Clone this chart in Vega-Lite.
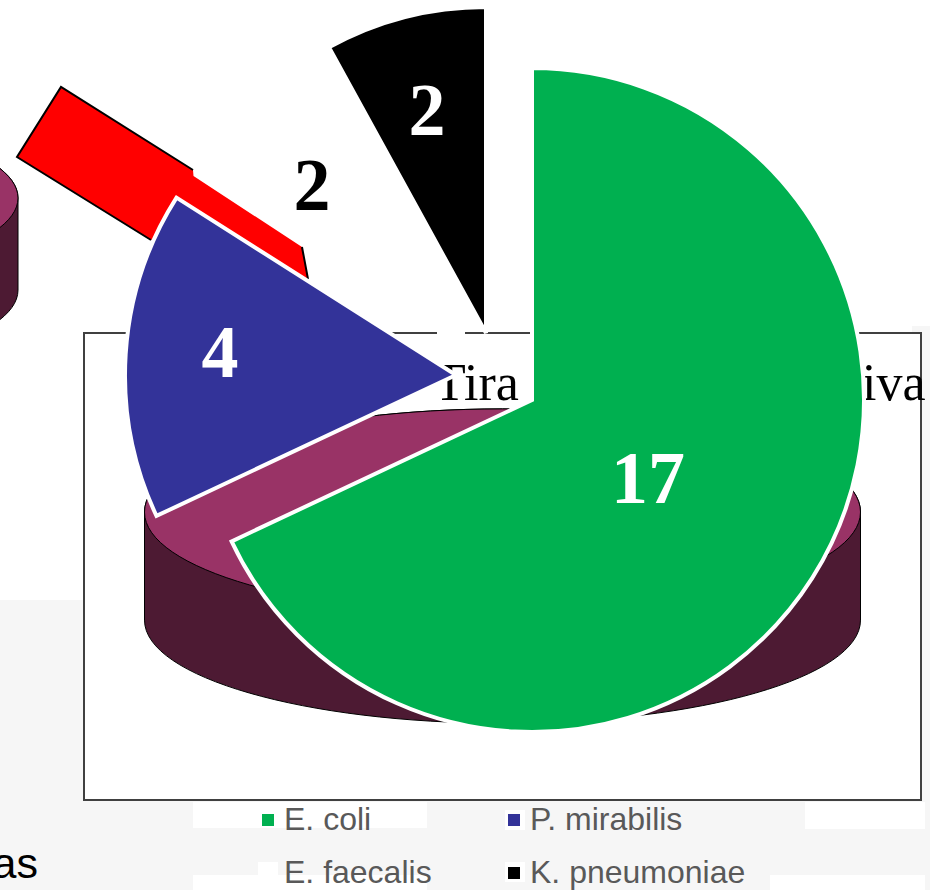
{"$schema":"https://vega.github.io/schema/vega-lite/v6.json","width":930,"height":890,"padding":0,"autosize":{"type":"none"},"background":"white","config":{"view":{"stroke":null}},
"datasets":{
"slices":[{"species":"E. coli","ord":1,"count":17,"cx":532,"cy":400,"lx":648,"ly":503,"lc":"white"},{"species":"P. mirabilis","ord":2,"count":4,"cx":456,"cy":375,"lx":220,"ly":377,"lc":"white"},{"species":"E. faecalis","ord":3,"count":2,"cx":330,"cy":300,"lx":312,"ly":210,"lc":"black"},{"species":"K. pneumoniae","ord":4,"count":2,"cx":486,"cy":333,"lx":427,"ly":135,"lc":"white"}],
"panels":[{"x":0,"x2":84,"y":600,"y2":890},{"x":84,"x2":930,"y":800,"y2":890},{"x":921,"x2":930,"y":326,"y2":800},{"x":912,"x2":921,"y":326,"y2":333}],
"patches":[{"x":193,"x2":427,"y":802,"y2":828},{"x":193,"x2":427,"y":875,"y2":890},{"x":258,"x2":278,"y":862,"y2":875},{"x":505,"x2":525,"y":810,"y2":830},{"x":505,"x2":525,"y":862,"y2":882},{"x":805,"x2":925,"y":802,"y2":829},{"x":770,"x2":925,"y":875,"y2":890}],
"frame":[{"x":84,"x2":921,"y":333,"y2":800}],
"gaps":[{"x":437,"x2":465,"y":330,"y2":336}],
"discLarge":[{"x":502.5,"y":512}],
"discSmall":[{"x":-287,"y":198}],
"redBand":[{"x":17,"top":157,"bottom":157},{"x":61,"top":87,"bottom":184},{"x":193,"top":170,"bottom":266},{"x":193.5,"top":176,"bottom":266},{"x":302,"top":247,"bottom":335},{"x":308,"top":279,"bottom":339}],
"redEdges":[{"e":"a","i":1,"x":151,"y":240},{"e":"a","i":2,"x":17,"y":157},{"e":"a","i":3,"x":61,"y":87},{"e":"a","i":4,"x":193,"y":170},{"e":"b","i":1,"x":302,"y":247},{"e":"b","i":2,"x":308,"y":279}],
"titleBits":[{"t":"Tira","x":434,"y":400},{"t":"iva","x":862,"y":400}],
"slideText":[{"t":"as","x":38,"y":878}]
},
"layer":[
{"data":{"name":"panels"},"mark":{"type":"rect","fill":"#f6f6f6"},"encoding":{"x":{"field":"x","type":"quantitative","scale":{"domain":[0,930],"nice":false,"zero":false},"axis":null},"x2":{"field":"x2"},"y":{"field":"y","type":"quantitative","scale":{"domain":[890,0],"nice":false,"zero":false},"axis":null},"y2":{"field":"y2"}}},
{"data":{"name":"patches"},"mark":{"type":"rect","fill":"white"},"encoding":{"x":{"field":"x","type":"quantitative","axis":null},"x2":{"field":"x2"},"y":{"field":"y","type":"quantitative","axis":null},"y2":{"field":"y2"}}},
{"data":{"name":"frame"},"mark":{"type":"rect","fill":"white","stroke":"#404040","strokeWidth":2},"encoding":{"x":{"field":"x","type":"quantitative","axis":null},"x2":{"field":"x2"},"y":{"field":"y","type":"quantitative","axis":null},"y2":{"field":"y2"}}},
{"data":{"name":"gaps"},"mark":{"type":"rect","fill":"white"},"encoding":{"x":{"field":"x","type":"quantitative","axis":null},"x2":{"field":"x2"},"y":{"field":"y","type":"quantitative","axis":null},"y2":{"field":"y2"}}},
{"data":{"name":"discLarge"},"mark":{"type":"point","filled":true,"opacity":1,"fill":"#4d1a33","stroke":"black","strokeWidth":1,"shape":"M-1,0A1,.288,0,1,1,1,0L1,.302A1,.288,0,1,1,-1,.302Z","size":512656},"encoding":{"x":{"field":"x","type":"quantitative","axis":null},"y":{"field":"y","type":"quantitative","axis":null}}},
{"data":{"name":"discLarge"},"mark":{"type":"point","filled":true,"opacity":1,"fill":"#993366","stroke":"black","strokeWidth":1,"shape":"M-1,0A1,.288,0,1,1,1,0A1,.288,0,1,1,-1,0Z","size":512656},"encoding":{"x":{"field":"x","type":"quantitative","axis":null},"y":{"field":"y","type":"quantitative","axis":null}}},
{"data":{"name":"discSmall"},"mark":{"type":"point","filled":true,"opacity":1,"fill":"#4d1a33","stroke":"black","strokeWidth":1,"shape":"M-1,0A1,.285,0,1,1,1,0L1,.302A1,.285,0,1,1,-1,.302Z","size":372100},"encoding":{"x":{"field":"x","type":"quantitative","axis":null},"y":{"field":"y","type":"quantitative","axis":null}}},
{"data":{"name":"discSmall"},"mark":{"type":"point","filled":true,"opacity":1,"fill":"#993366","stroke":"black","strokeWidth":1,"shape":"M-1,0A1,.285,0,1,1,1,0A1,.285,0,1,1,-1,0Z","size":372100},"encoding":{"x":{"field":"x","type":"quantitative","axis":null},"y":{"field":"y","type":"quantitative","axis":null}}},
{"data":{"name":"redBand"},"mark":{"type":"area","orient":"vertical"},"encoding":{"x":{"field":"x","type":"quantitative","axis":null},"y":{"field":"top","type":"quantitative","axis":null},"y2":{"field":"bottom"},"color":{"value":"#ff0000"},"opacity":{"value":1}}},
{"data":{"name":"redEdges"},"mark":{"type":"line","stroke":"black","strokeWidth":2},"encoding":{"x":{"field":"x","type":"quantitative","axis":null},"y":{"field":"y","type":"quantitative","axis":null},"detail":{"field":"e"},"order":{"field":"i","type":"quantitative"}}},
{"data":{"name":"titleBits"},"mark":{"type":"text","font":"Liberation Serif","fontSize":52,"align":"left","baseline":"alphabetic","color":"black"},"encoding":{"x":{"field":"x","type":"quantitative","axis":null},"y":{"field":"y","type":"quantitative","axis":null},"text":{"field":"t"}}},
{"data":{"name":"slideText"},"mark":{"type":"text","font":"Liberation Sans","fontSize":43,"align":"right","baseline":"alphabetic","color":"black"},"encoding":{"x":{"field":"x","type":"quantitative","axis":null},"y":{"field":"y","type":"quantitative","axis":null},"text":{"field":"t"}}},
{"data":{"name":"slices"},"transform":[{"stack":"count","sort":[{"field":"ord","order":"ascending"}],"as":["t0","t1"]},{"filter":"datum.species === 'K. pneumoniae'"}],"mark":{"type":"arc","outerRadius":326,"stroke":"white","strokeWidth":4},"encoding":{"x":{"field":"cx","type":"quantitative","axis":null},"y":{"field":"cy","type":"quantitative","axis":null},"theta":{"field":"t0","type":"quantitative","scale":{"domain":[0,25],"range":[0,6.283185]}},"theta2":{"field":"t1"},"color":{"field":"species","type":"nominal","scale":{"domain":["E. coli","E. faecalis","P. mirabilis","K. pneumoniae"],"range":["#00b050","#ff0000","#333399","#000000"]},"sort":null,"legend":{"title":null,"orient":"none","legendX":252,"legendY":804,"columns":2,"symbolType":"square","symbolSize":144,"symbolStrokeWidth":0,"labelFont":"Liberation Sans","labelFontSize":32,"labelColor":"#595959","labelOffset":0,"labelLimit":400,"columnPadding":66,"rowPadding":21,"encoding":{"symbols":{"opacity":{"value":{"expr":"datum.value === 'E. faecalis' ? 0 : 1"}}}}}}}},
{"data":{"name":"slices"},"transform":[{"stack":"count","sort":[{"field":"ord","order":"ascending"}],"as":["t0","t1"]},{"filter":"datum.species === 'P. mirabilis'"}],"mark":{"type":"arc","outerRadius":331,"stroke":"white","strokeWidth":4},"encoding":{"x":{"field":"cx","type":"quantitative","axis":null},"y":{"field":"cy","type":"quantitative","axis":null},"theta":{"field":"t0","type":"quantitative","scale":{"domain":[0,25],"range":[0,6.283185]}},"theta2":{"field":"t1"},"color":{"field":"species","type":"nominal"}}},
{"data":{"name":"slices"},"transform":[{"stack":"count","sort":[{"field":"ord","order":"ascending"}],"as":["t0","t1"]},{"filter":"datum.species === 'E. coli'"}],"mark":{"type":"arc","outerRadius":332,"stroke":"white","strokeWidth":4},"encoding":{"x":{"field":"cx","type":"quantitative","axis":null},"y":{"field":"cy","type":"quantitative","axis":null},"theta":{"field":"t0","type":"quantitative","scale":{"domain":[0,25],"range":[0,6.283185]}},"theta2":{"field":"t1"},"color":{"field":"species","type":"nominal"}}},
{"data":{"name":"slices"},"mark":{"type":"text","font":"Liberation Serif","fontWeight":"bold","fontSize":74,"align":"center","baseline":"alphabetic"},"encoding":{"x":{"field":"lx","type":"quantitative","axis":null},"y":{"field":"ly","type":"quantitative","axis":null},"text":{"field":"count","type":"quantitative"},"color":{"field":"lc","type":"nominal","scale":null,"legend":null}}}
]}
